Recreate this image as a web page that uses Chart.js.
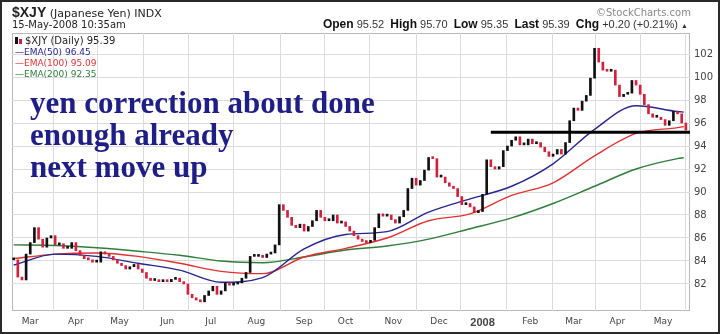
<!DOCTYPE html>
<html>
<head>
<meta charset="utf-8">
<script src="https://cdn.jsdelivr.net/npm/chart.js@4/dist/chart.umd.min.js"></script>
<style>
  body { margin: 0; background: #fff; }
  #frame { position: relative; width: 720px; height: 334px; overflow: hidden; font-family: "DejaVu Sans", sans-serif; color: #222; }
  #border { position: absolute; left: 0; top: 0; width: 720px; height: 334px; box-sizing: border-box; border: 2px solid #2a2a2a; pointer-events: none; }
  canvas { position: absolute; left: 0; top: 0; }
  .t { position: absolute; white-space: nowrap; }
  .note { position: absolute; left: 30px; top: 87px; font: bold 31px/32px "Liberation Serif", "Times New Roman", serif; color: #1e1e86; white-space: nowrap; }
  .lg { position: absolute; left: 15px; font-size: 9px; white-space: nowrap; }
  .hd b { font-size: 12px; }
</style>
</head>
<body>
<div id="frame">
  <canvas id="chart" width="720" height="334"></canvas>

  <div class="t" style="left:12px; top:4px; font-size:11px;"><b style="font-size:14px; font-family:'Liberation Sans',Arial,sans-serif;">$XJY</b> (Japanese Yen) INDX</div>
  <div class="t" style="left:12px; top:19px; font-size:10px;">15-May-2008 10:35am</div>
  <div class="t" style="left:596px; top:7px; font-size:10px; color:#888;">&#169;StockCharts.com</div>
  <div class="t hd" style="right:32px; top:17px; font-size:11px; font-family:'Liberation Sans',Arial,sans-serif; color:#333;">
    <b style="color:#111">Open</b> 95.52&nbsp; <b style="color:#111">High</b> 95.70&nbsp; <b style="color:#111">Low</b> 95.35&nbsp; <b style="color:#111">Last</b> 95.39&nbsp; <b style="color:#111">Chg</b> +0.20 (+0.21%) <span style="font-size:7px">&#9650;</span>
  </div>

  <div class="lg" style="top:35px; font-size:10px;"><span style="display:inline-block;width:3px;height:7px;background:#111;margin-right:1px"></span><span style="display:inline-block;width:3px;height:5px;background:#d4203c;margin-right:3px"></span>$XJY (Daily) 95.39</div>
  <div class="lg" style="top:47px; color:#26268f;">&#8212;EMA(50) 96.45</div>
  <div class="lg" style="top:58px; color:#e03232;">&#8212;EMA(100) 95.09</div>
  <div class="lg" style="top:69px; color:#2e7d3a;">&#8212;EMA(200) 92.35</div>

  <div class="note">yen correction about done<br>enough already<br>next move up</div>

  <div id="border"></div>
</div>

<script>
// daily chart, one candle every 2 trading days (x = trading day since 19-Feb-2007)
const closes = [
  84.1, 82.6, 82.35, 84.6, 85.6, 86.9, 85.9, 85.2, 86.0, 86.2,
  85.4, 85.5, 85.1, 85.1, 85.6, 84.9, 84.5, 84.2, 84.1, 83.9,
  83.9, 84.8, 84.6, 84.4, 84.1, 83.8, 83.6, 83.3, 83.5, 83.7,
  83.3, 83.0, 82.5, 82.3, 82.3, 82.2, 82.3, 82.2, 82.4, 82.5,
  82.2, 82.0, 81.1, 80.8, 80.6, 80.45, 81.0, 81.4, 81.8, 81.1,
  81.4, 82.1, 81.9, 82.0, 82.1, 82.5, 83.0, 84.4, 84.4, 84.5,
  84.3, 84.6, 84.7, 85.4, 88.9, 88.4, 87.8, 87.1, 86.9, 87.2,
  86.6, 87.0, 87.5, 88.4, 87.8, 87.5, 87.5, 88.0, 87.3, 87.4,
  87.0, 86.6, 86.2, 85.9, 85.7, 85.6, 85.8, 86.9, 88.1, 87.9,
  88.0, 87.6, 87.3, 87.85, 88.4, 90.3, 91.2, 90.6, 91.0, 91.9,
  93.0, 92.9, 91.3, 91.3, 90.8, 90.5, 90.3, 89.6, 88.9, 89.0,
  88.7, 88.2, 88.3, 89.8, 92.8, 92.2, 92.0, 92.2, 93.6, 94.0,
  94.5, 94.8, 94.1, 94.1, 94.6, 94.2, 94.3, 93.9, 93.5, 93.1,
  93.3, 93.7, 93.3, 94.3, 96.2, 97.3, 97.1, 97.9, 98.4, 99.9,
  102.5, 101.3, 100.6, 100.5, 100.6, 99.3, 98.3, 98.5, 98.6, 99.7,
  99.3, 98.5, 97.6, 96.8, 96.5, 96.5, 96.3, 95.8, 96.2, 97.0,
  96.8, 96.0, 95.39
];

// moving averages read at these trading days
const emaDays = [0, 20, 40, 60, 80, 100, 120, 140, 160, 180, 200, 220, 240, 260, 280, 300, 320, 323];
const ema50  = [83.65, 84.6, 84.4, 83.8, 83.2, 82.15, 82.55, 85.05, 86.3, 86.55, 88.25, 89.4, 90.5, 92.45, 95.45, 97.5, 97.0, 96.95];
const ema100 = [84.2, 84.6, 84.7, 84.4, 83.8, 83.1, 82.9, 84.35, 85.1, 86.0, 87.5, 88.1, 89.7, 90.8, 93.15, 95.1, 95.6, 95.7];
const ema200 = [85.4, 85.35, 85.15, 84.85, 84.5, 84.0, 83.85, 84.35, 84.95, 85.3, 85.9, 86.8, 87.75, 89.0, 90.5, 92.0, 92.9, 92.98];

// support line drawn on the chart
const supportLevel = 95.2;
const supportFrom = 230, supportTo = 326;

const monthStarts = [8, 30, 51, 74, 95, 117, 140, 160, 183, 205, 226, 249, 270, 291, 313];
const monthLabels = ["Mar", "Apr", "May", "Jun", "Jul", "Aug", "Sep", "Oct", "Nov", "Dec", "2008", "Feb", "Mar", "Apr", "May"];
const yTicks = [82, 84, 86, 88, 90, 92, 94, 96, 98, 100, 102];

const UP = "#111111", DOWN = "#d4203c";

const candles = closes.map((c, i) => ({ x: i * 2, y: [i ? closes[i - 1] : c, c] }));
const candleColors = closes.map((c, i) => (i && c < closes[i - 1] ? DOWN : UP));

const emaLine = (vals, color) => ({
  type: "line",
  data: vals.map((v, i) => ({ x: emaDays[i], y: v })),
  borderColor: color,
  borderWidth: 1.4,
  pointRadius: 0,
  cubicInterpolationMode: "monotone",
  order: 2,
});

const plotFrame = {
  id: "plotFrame",
  beforeDraw(chart) {
    const { ctx, chartArea: a } = chart;
    ctx.save();
    ctx.strokeStyle = "#b8b8b8";
    ctx.lineWidth = 1;
    ctx.strokeRect(a.left + 0.5, a.top + 0.5, a.width - 1, a.height - 1);
    ctx.restore();
  },
};

new Chart(document.getElementById("chart"), {
  type: "bar",
  data: {
    datasets: [
      {
        data: candles,
        backgroundColor: candleColors,
        barThickness: 2,
        minBarLength: 2,
        borderSkipped: false,
        order: 1,
      },
      emaLine(ema50, "#26268f"),
      emaLine(ema100, "#e03232"),
      emaLine(ema200, "#2e7d3a"),
      {
        type: "line",
        data: [{ x: supportFrom, y: supportLevel }, { x: supportTo, y: supportLevel }],
        borderColor: "#000",
        borderWidth: 3,
        pointRadius: 0,
        order: 0,
      },
    ],
  },
  options: {
    responsive: false,
    animation: false,
    devicePixelRatio: 1,
    layout: { padding: { left: 12, top: 33, right: 0, bottom: 0 } },
    plugins: { legend: { display: false }, tooltip: { enabled: false } },
    scales: {
      x: {
        type: "linear",
        min: -0.8,
        max: 326,
        offset: false,
        afterBuildTicks: (s) => { s.ticks = monthStarts.map((v) => ({ value: v })); },
        afterFit: (s) => { s.height = 23; },
        grid: { color: "#dcdcdc", drawTicks: false },
        border: { display: false },
        ticks: {
          padding: 5,
          color: "#444",
          maxRotation: 0,
          autoSkip: false,
          callback: (v, i) => monthLabels[i],
          font: (c) => monthLabels[c.index] === "2008"
            ? { family: "Liberation Sans", size: 11, weight: "bold" }
            : { family: "DejaVu Sans", size: 9 },
        },
      },
      y: {
        position: "right",
        min: 79.65,
        max: 103.83,
        afterBuildTicks: (s) => { s.ticks = yTicks.map((v) => ({ value: v })); },
        afterFit: (s) => { s.width = 30; },
        grid: { color: "#dcdcdc", drawTicks: false },
        border: { display: false },
        ticks: { padding: 4, color: "#444", font: { family: "DejaVu Sans", size: 10 } },
      },
    },
  },
  plugins: [plotFrame],
});
</script>
</body>
</html>
